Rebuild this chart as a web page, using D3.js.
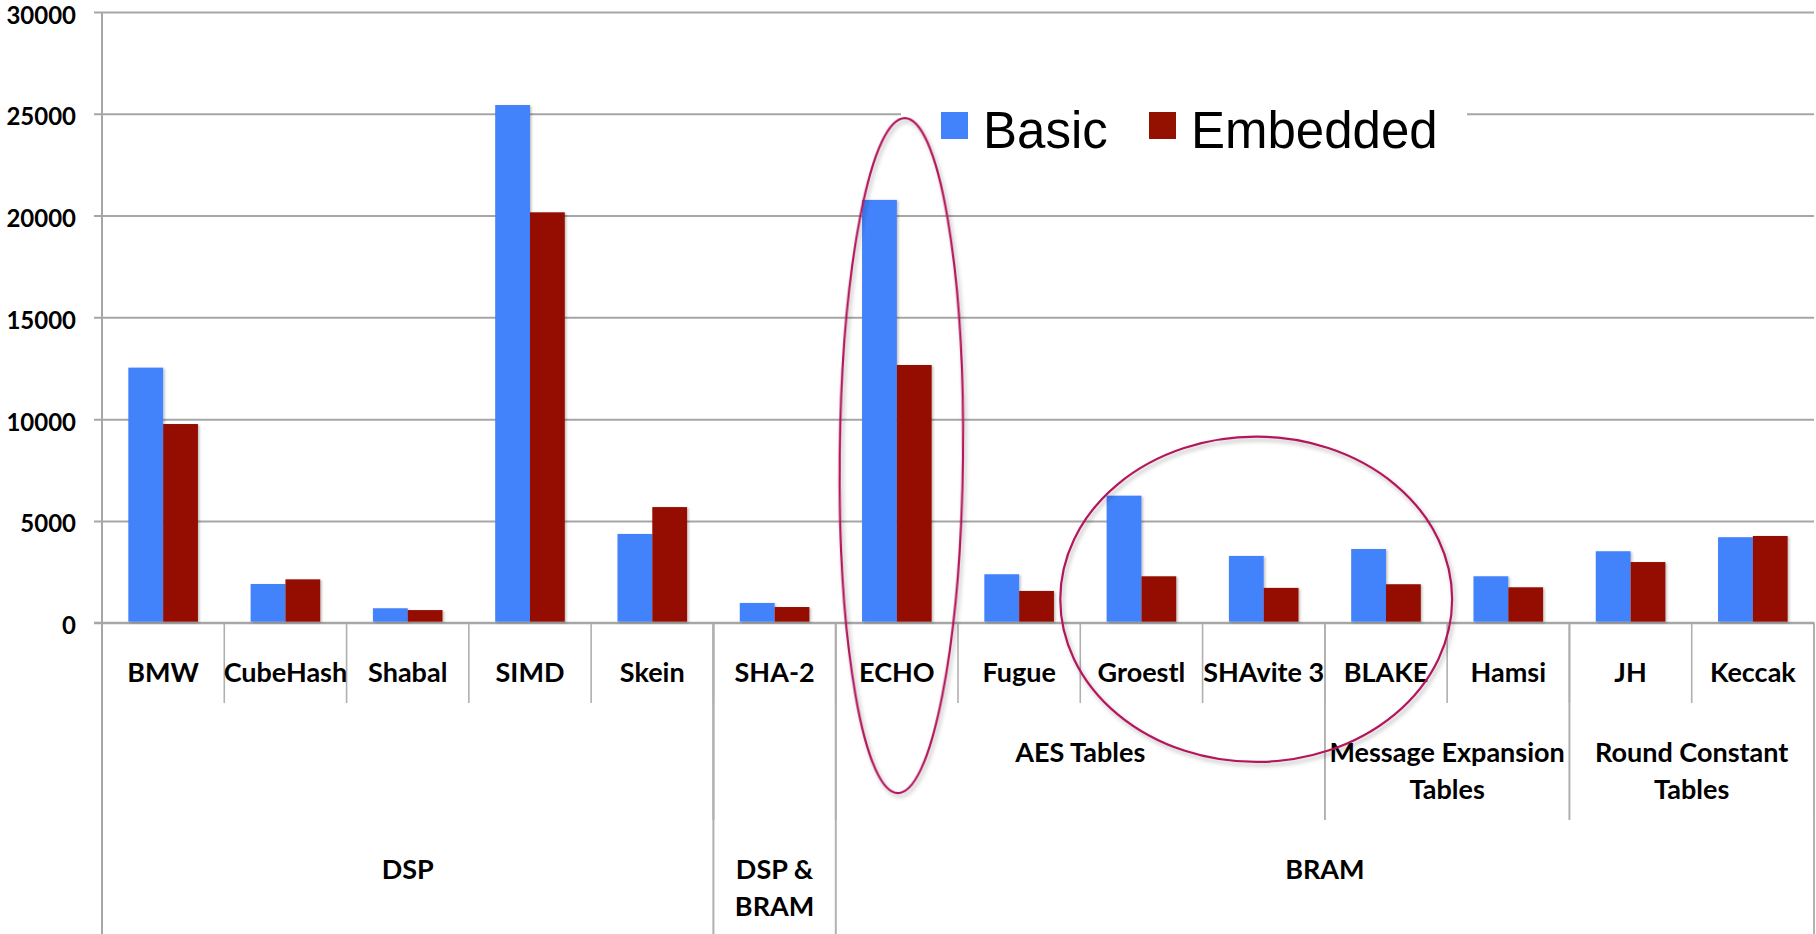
<!DOCTYPE html>
<html>
<head>
<meta charset="utf-8">
<script src="https://cdn.jsdelivr.net/npm/d3@7"></script>
<style>
  html, body { margin: 0; padding: 0; background: #fff; }
  svg { display: block; }
</style>
</head>
<body>
<svg id="chart" width="1816" height="934"></svg>
<script>
// Hash function area per implementation variant
const categories = ["BMW", "CubeHash", "Shabal", "SIMD", "Skein", "SHA-2", "ECHO",
  "Fugue", "Groestl", "SHAvite 3", "BLAKE", "Hamsi", "JH", "Keccak"];
const seriesNames = ["Basic", "Embedded"];
const basicValues    = [12530, 1900, 710, 25430, 4360, 970, 20770, 2380, 6240, 3280, 3620, 2280, 3510, 4200];
const embeddedValues = [9760, 2130, 620, 20160, 5680, 770, 12660, 1560, 2280, 1710, 1890, 1740, 2980, 4260];
const yTicks = [0, 5000, 10000, 15000, 20000, 25000, 30000];

// Second label row: [lines, first category index, end index]
const midGroupLabels = [[], [], ["AES Tables"], ["Message Expansion", "Tables"], ["Round Constant", "Tables"]];
const midGroupStarts = [0, 5, 6, 10, 12];
const midGroupEnds   = [5, 6, 10, 12, 14];
// Third label row
const topGroupLabels = [["DSP"], ["DSP &", "BRAM"], ["BRAM"]];
const topGroupStarts = [0, 5, 6];
const topGroupEnds   = [5, 6, 14];

// Highlighted category runs
const highlightFrom  = [6, 8];
const highlightTo    = [6, 10];

const colors = { Basic: "#4282fb", Embedded: "#941100" };

const svg = d3.select("#chart");
const left = 102, right = 1814, axisY = 622.7, topY = 12;
const rowCat = 703, rowMid = 820, rowBottom = 934;

const x = d3.scaleBand().domain(categories).range([left, right]).paddingInner(0).paddingOuter(0);
const xs = d3.scaleBand().domain(seriesNames).range([0, x.bandwidth()]).paddingInner(0).paddingOuter(0.757);
const y = d3.scaleLinear().domain([0, 30000]).range([axisY, topY]);

const defs = svg.append("defs");
const barShadow = defs.append("filter").attr("id", "barShadow")
  .attr("x", "-20%").attr("y", "-5%").attr("width", "150%").attr("height", "115%");
barShadow.append("feDropShadow").attr("dx", 1.5).attr("dy", 1).attr("stdDeviation", 1.2)
  .attr("flood-color", "#000").attr("flood-opacity", 0.25);
const ringShadow = defs.append("filter").attr("id", "ringShadow")
  .attr("x", "-20%").attr("y", "-20%").attr("width", "140%").attr("height", "140%");
ringShadow.append("feDropShadow").attr("dx", 2).attr("dy", 3).attr("stdDeviation", 2)
  .attr("flood-color", "#000").attr("flood-opacity", 0.3);

// Horizontal gridlines, extended left as tick marks
const yAxis = d3.axisLeft(y).tickValues(yTicks).tickSize(-(right - left)).tickPadding(0).tickFormat(d3.format("d"));
const gy = svg.append("g").attr("transform", `translate(${left},0)`).call(yAxis);
gy.select(".domain").remove();
gy.selectAll(".tick line").attr("x1", -8).attr("stroke", "#a6a6a6").attr("stroke-width", 2);
gy.selectAll(".tick text")
  .attr("x", -26).attr("dy", 11)
  .attr("fill", "#000")
  .style("font-family", "Lato, 'Open Sans', sans-serif")
  .style("font-weight", 700)
  .style("font-size", "24px");

// Category separators at three depths
const vlines = svg.append("g").attr("stroke", "#b0b0b0").attr("stroke-width", 1.6);
categories.forEach(c => {
  vlines.append("line").attr("x1", x(c)).attr("x2", x(c)).attr("y1", axisY).attr("y2", rowCat);
});
vlines.append("line").attr("x1", right).attr("x2", right).attr("y1", axisY).attr("y2", rowBottom);
const edgeX = i => i < categories.length ? x(categories[i]) : right;
midGroupStarts.forEach((s, g) => {
  [s, midGroupEnds[g]].forEach(k => {
    vlines.append("line").attr("x1", edgeX(k)).attr("x2", edgeX(k)).attr("y1", axisY).attr("y2", rowMid);
  });
});
topGroupStarts.forEach((s, g) => {
  [s, topGroupEnds[g]].forEach(k => {
    vlines.append("line").attr("x1", edgeX(k)).attr("x2", edgeX(k)).attr("y1", axisY).attr("y2", rowBottom);
  });
});
// Value axis line and baseline
svg.append("line").attr("x1", left).attr("x2", left).attr("y1", topY).attr("y2", rowBottom)
  .attr("stroke", "#a6a6a6").attr("stroke-width", 2);
svg.append("line").attr("x1", left - 8).attr("x2", right).attr("y1", axisY).attr("y2", axisY)
  .attr("stroke", "#a6a6a6").attr("stroke-width", 2);

// Bars
const rows = categories.map((c, i) => ({ c, Basic: basicValues[i], Embedded: embeddedValues[i] }));
const bars = svg.append("g");
seriesNames.forEach(s => {
  bars.selectAll(null).data(rows).enter().append("rect")
    .attr("x", d => x(d.c) + xs(s))
    .attr("width", xs.bandwidth())
    .attr("y", d => y(d[s]))
    .attr("height", d => axisY - 1 - y(d[s]))
    .attr("fill", colors[s])
    .attr("filter", "url(#barShadow)");
});

// Label rows
const labelFont = sel => sel
  .style("font-family", "Lato, 'Open Sans', sans-serif")
  .style("font-weight", 700)
  .style("font-size", "27px")
  .attr("fill", "#000")
  .attr("text-anchor", "middle");

svg.append("g").selectAll("text").data(categories).enter().append("text")
  .attr("x", d => x(d) + x.bandwidth() / 2)
  .attr("y", 682)
  .text(d => d)
  .call(labelFont);

function groupRow(labels, starts, ends, baseline) {
  const g = svg.append("g");
  labels.forEach((lines, k) => {
    const cx = (edgeX(starts[k]) + edgeX(ends[k])) / 2;
    const t = g.append("text").attr("x", cx).attr("y", baseline).call(labelFont);
    lines.forEach((ln, j) => {
      t.append("tspan").attr("x", cx).attr("dy", j === 0 ? 0 : 36.5).text(ln);
    });
  });
}
groupRow(midGroupLabels, midGroupStarts, midGroupEnds, 762);
groupRow(topGroupLabels, topGroupStarts, topGroupEnds, 879);

// Legend
const legend = svg.append("g");
legend.append("rect").attr("x", 901).attr("y", 96).attr("width", 566).attr("height", 62).attr("fill", "#fff");
const legendX = [941, 1149];
seriesNames.forEach((s, i) => {
  legend.append("rect").attr("x", legendX[i]).attr("y", 112).attr("width", 27).attr("height", 27).attr("fill", colors[s]);
  legend.append("text").attr("x", legendX[i] + 42).attr("y", 148).text(s)
    .style("font-family", "'Liberation Sans', Arial, sans-serif")
    .style("font-size", "51px").attr("fill", "#000");
});

// Highlight rings, vertical extent in value units
const ringTop = [24790, 9140];
const ringBottom = [-8370, -6840];
const ringPadLeft = [4, -20];
const ringPadRight = [5, 5];
const rings = svg.append("g");
highlightFrom.forEach((a, i) => {
  const b = highlightTo[i];
  const x0 = x(categories[a]) + ringPadLeft[i];
  const x1 = x(categories[b]) + x.bandwidth() + ringPadRight[i];
  const y0 = y(ringTop[i]), y1 = y(ringBottom[i]);
  const cx = (x0 + x1) / 2, cy = (y0 + y1) / 2;
  rings.append("ellipse")
    .attr("cx", cx).attr("cy", cy)
    .attr("rx", (x1 - x0) / 2).attr("ry", (y1 - y0) / 2)
    .attr("transform", i === 0 ? `rotate(0.6 ${cx} ${cy})` : null)
    .attr("fill", "none").attr("stroke", "#b3185c").attr("stroke-width", 2.2)
    .attr("filter", "url(#ringShadow)");
});
</script>
</body>
</html>
